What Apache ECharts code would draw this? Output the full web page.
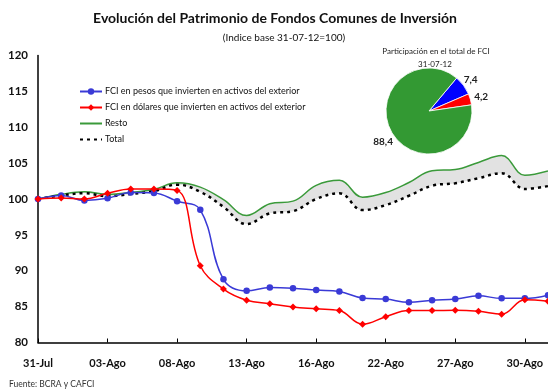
<!DOCTYPE html>
<html>
<head>
<meta charset="utf-8">
<script src="https://cdn.jsdelivr.net/npm/echarts@6/dist/echarts.min.js"></script>
<style>
  html, body { margin: 0; padding: 0; background: #fff; }
  #c { width: 548px; height: 392px; }
</style>
</head>
<body>
<div id="c"></div>
<script>
// Business days, 31-Jul-2012 to 31-Aug-2012
const categories = ['31-Jul','01-Ago','02-Ago','03-Ago','06-Ago','07-Ago','08-Ago','09-Ago','10-Ago',
  '13-Ago','14-Ago','15-Ago','16-Ago','17-Ago','21-Ago','22-Ago','23-Ago','24-Ago','27-Ago',
  '28-Ago','29-Ago','30-Ago','31-Ago'];

// Index values (31-07-12 = 100)
const pesos   = [100, 100.5, 99.8, 100.1, 100.9, 100.85, 99.7, 98.5, 88.8, 87.2, 87.65, 87.55, 87.3, 87.1,
  86.2, 86.05, 85.6, 85.9, 86.05, 86.5, 86.15, 86.15, 86.6];
const dolares = [100, 100.15, 100.0, 100.8, 101.4, 101.4, 101.2, 90.7, 87.45, 85.9, 85.4, 84.95, 84.7, 84.45,
  82.55, 83.6, 84.45, 84.45, 84.5, 84.35, 83.95, 85.95, 85.75];
const resto   = [100, 100.65, 101.0, 100.65, 100.9, 101.35, 102.25, 101.65, 99.9, 97.7, 99.35, 99.7, 101.9, 102.6,
  100.25, 100.9, 102.3, 103.95, 104.1, 105.1, 106.05, 103.3, 103.9];
const total   = [100, 100.5, 100.8, 100.4, 100.7, 101.1, 102.0, 101.0, 98.9, 96.5, 98.0, 98.3, 100.0, 100.8,
  98.45, 99.15, 100.45, 101.85, 102.2, 102.9, 103.6, 101.4, 101.8];

// Share of total FCI on 31-07-12
const shareNames  = ['FCI en pesos que invierten en activos del exterior', 'FCI en dólares que invierten en activos del exterior', 'Resto'];
const shareValues = [7.4, 4.2, 88.4];

const seriesNames = ['FCI en pesos que invierten en activos del exterior',
  'FCI en dólares que invierten en activos del exterior', 'Resto', 'Total'];

const FONT = 'Lato, "DejaVu Sans", sans-serif';
const BLUE = '#3a3ad6', RED = '#ff0000', GREEN = '#3a9a3a', PIE_GREEN = '#339933';
const SMOOTH = 0.4;

const gap = resto.map((v, i) => +(v - total[i]).toFixed(2));

// small nudges for the pie value labels
const pieLabelShift = [[-5, -3], [-2, -1], [7, 8]];

const chart = echarts.init(document.getElementById('c'));
chart.setOption({
  animation: false,
  backgroundColor: '#fff',
  textStyle: { fontFamily: FONT },
  title: [
    { text: 'Evolución del Patrimonio de Fondos Comunes de Inversión', left: 270, top: 6, textAlign: 'center',
      textStyle: { fontFamily: FONT, fontSize: 14, fontWeight: 'bold', color: '#111' } },
    { text: '(Indice base 31-07-12=100)', left: 279, top: 28, textAlign: 'center',
      textStyle: { fontFamily: FONT, fontSize: 10, fontWeight: 'normal', color: '#111' } },
    { text: 'Participación en el total de FCI', left: 431, top: 42, textAlign: 'center',
      textStyle: { fontFamily: FONT, fontSize: 8, fontWeight: 'normal', color: '#222' } },
    { text: '31-07-12', left: 430, top: 55, textAlign: 'center',
      textStyle: { fontFamily: FONT, fontSize: 8, fontWeight: 'normal', color: '#222' } },
    { text: 'Fuente: BCRA y CAFCI', left: 4, top: 375,
      textStyle: { fontFamily: FONT, fontSize: 8.5, fontWeight: 'normal', color: '#333' } }
  ],
  legend: {
    data: [
      { name: seriesNames[0] },
      { name: seriesNames[1] },
      { name: seriesNames[2], itemStyle: { opacity: 0 } },
      { name: seriesNames[3], itemStyle: { opacity: 0 } }
    ],
    orient: 'vertical',
    left: 74, top: 82,
    itemWidth: 22, itemHeight: 8, itemGap: 7,
    textStyle: { fontFamily: FONT, fontSize: 9, color: '#111', padding: [0, 0, 0, -2] },
    selectedMode: false
  },
  grid: { left: 38, right: -4, top: 55.5, bottom: 49.5, containLabel: false },
  xAxis: {
    type: 'category',
    data: categories,
    boundaryGap: false,
    axisLine: { lineStyle: { color: '#000', width: 1.5 } },
    axisTick: { inside: true, length: 4, lineStyle: { color: '#000', width: 1 } },
    axisLabel: { interval: 2, margin: 15, fontFamily: FONT, fontSize: 11, fontWeight: 'bold', color: '#111' },
    splitLine: { show: false }
  },
  yAxis: {
    type: 'value',
    min: 80, max: 120, interval: 5,
    axisLine: { show: true, lineStyle: { color: '#000', width: 1.5 } },
    axisTick: { show: false },
    axisLabel: { margin: 10, fontFamily: FONT, fontSize: 11.5, fontWeight: 'bold', color: '#111' },
    splitLine: { show: false }
  },
  series: [
    { name: 'band-base', type: 'line', stack: 'band', data: total, smooth: SMOOTH, symbol: 'none',
      lineStyle: { opacity: 0 }, silent: true, z: 1 },
    { name: 'band-gap', type: 'line', stack: 'band', data: gap, smooth: SMOOTH, symbol: 'none',
      lineStyle: { opacity: 0 }, areaStyle: { color: '#e2e2e2', opacity: 1 }, silent: true, z: 1 },
    { name: 'Resto', type: 'line', data: resto, smooth: SMOOTH, symbol: 'none',
      itemStyle: { color: GREEN }, lineStyle: { color: GREEN, width: 1.5 }, z: 3 },
    { name: 'Total', type: 'line', data: total, smooth: SMOOTH, symbol: 'none',
      itemStyle: { color: '#000' }, lineStyle: { color: '#000', width: 2.5, type: [3, 4] }, z: 3 },
    { name: seriesNames[0], type: 'line', data: pesos, smooth: SMOOTH,
      symbol: 'circle', symbolSize: 6.5, showAllSymbol: true,
      itemStyle: { color: BLUE }, lineStyle: { color: BLUE, width: 1.5 }, z: 4 },
    { name: seriesNames[1], type: 'line', data: dolares, smooth: SMOOTH,
      symbol: 'diamond', symbolSize: 7, showAllSymbol: true,
      itemStyle: { color: RED }, lineStyle: { color: RED, width: 1.5 }, z: 5 },
    { name: 'share', type: 'pie', center: [429, 111], radius: 43,
      startAngle: 50, clockwise: true, silent: true, z: 6,
      itemStyle: { borderColor: '#fff', borderWidth: 0.8 },
      label: { show: true, position: 'outside', formatter: p => String(p.value).replace('.', ','),
        fontFamily: FONT, fontSize: 10, fontWeight: 'bold', color: '#222', distanceToLabelLine: 2 },
      labelLine: { show: false, length: 4, length2: 0 },
      labelLayout: p => ({ dx: pieLabelShift[p.dataIndex][0], dy: pieLabelShift[p.dataIndex][1] }),
      data: shareValues.map((v, i) => ({ name: shareNames[i], value: v,
        itemStyle: { color: [ '#0000ff', '#ff0000', PIE_GREEN ][i] } }))
    }
  ]
});
</script>
</body>
</html>
